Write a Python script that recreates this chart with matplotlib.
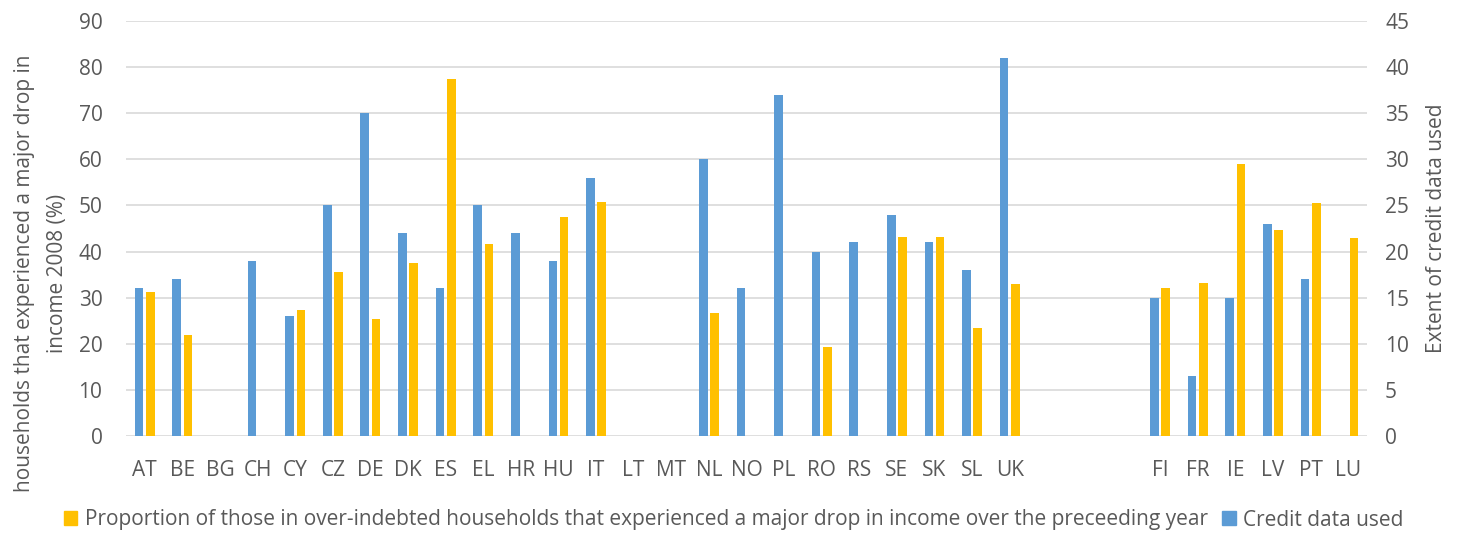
import numpy as np
import matplotlib.pyplot as plt
from matplotlib.patches import Patch

nan = np.nan

# Country groups on the x axis, with empty slots between them
countries_main = ["AT", "BE", "BG", "CH", "CY", "CZ", "DE", "DK", "ES", "EL", "HR", "HU",
                  "IT", "LT", "MT", "NL", "NO", "PL", "RO", "RS", "SE", "SK", "SL", "UK"]
countries_other = ["FI", "FR", "IE", "LV", "PT", "LU"]
gap_slots = 3

# Proportion (%) that experienced a major drop in income (left axis)
income_drop_main = [31.2, 22.0, nan, nan, 27.3, 35.5, 25.4, 37.6, 77.5, 41.6, nan, 47.4,
                    50.7, nan, nan, 26.6, nan, nan, 19.2, nan, 43.1, 43.1, 23.4, 32.9]
income_drop_other = [32.2, 33.2, 59.0, 44.7, 50.6, 43.0]

# Extent of credit data used (right axis)
credit_main = [16, 17, nan, 19, 13, 25, 35, 22, 16, 25, 22, 19,
               28, nan, nan, 30, 16, 37, 20, 21, 24, 21, 18, 41]
credit_other = [15, 6.5, 15, 23, 17, nan]

left_ticks = list(range(0, 91, 10))
right_ticks = list(range(0, 46, 5))

labels = countries_main + [""] * gap_slots + countries_other
income_drop = np.array(income_drop_main + [nan] * gap_slots + income_drop_other)
credit = np.array(credit_main + [nan] * gap_slots + credit_other)
x = np.arange(len(labels))

YELLOW = "#FFC000"
BLUE = "#5B9BD5"
TEXT = "#595959"
GRID = "#D9D9D9"
FS = 15

plt.rcParams["font.family"] = ["Open Sans", "DejaVu Sans"]

fig = plt.figure(figsize=(14.63, 5.33), dpi=100)
ax = fig.add_axes([126 / 1463, 1 - 436 / 533, (1367 - 126) / 1463, 415 / 533])
ax2 = ax.twinx()

bw = 0.23
off = 0.15
ax.bar(x + off, income_drop, width=bw, color=YELLOW, zorder=3)
ax2.bar(x - off, credit, width=bw, color=BLUE, zorder=3)

ax.set_xlim(-0.5, len(labels) - 0.5)
ax.set_ylim(0, 90)
ax2.set_ylim(0, 45)
ax.set_yticks(left_ticks)
ax2.set_yticks(right_ticks)
ax.set_xticks(x)
ax.set_xticklabels(labels)

ax.grid(axis="y", color=GRID, linewidth=1.2, zorder=0)
ax.set_axisbelow(True)
for a in (ax, ax2):
    for s in a.spines.values():
        s.set_visible(False)
ax.tick_params(axis="y", length=0, pad=17, labelsize=FS, labelcolor=TEXT)
ax.tick_params(axis="x", length=0, pad=17, labelsize=FS, labelcolor=TEXT)
ax2.tick_params(axis="y", length=0, pad=13, labelsize=FS, labelcolor=TEXT)

fig.text(41 / 1463, 1 - 273 / 533,
         "households that experienced a major drop in\nincome 2008 (%)",
         rotation=90, ha="center", va="center", fontsize=FS, color=TEXT,
         linespacing=1.8, multialignment="center")
ax2.set_ylabel("Extent of credit data used", fontsize=FS, color=TEXT, labelpad=12)

handles = [Patch(color=YELLOW), Patch(color=BLUE)]
leg_labels = ["Proportion of those in over-indebted households that experienced a major drop in income over the preceeding year",
              "Credit data used"]
fig.legend(handles, leg_labels, loc="center", bbox_to_anchor=(0.5014, 1 - 520 / 533),
           ncol=2, frameon=False, fontsize=FS, labelcolor=TEXT,
           handlelength=0.65, handleheight=0.65, handletextpad=0.35, columnspacing=0.7)

fig.savefig("out.png", dpi=100)
